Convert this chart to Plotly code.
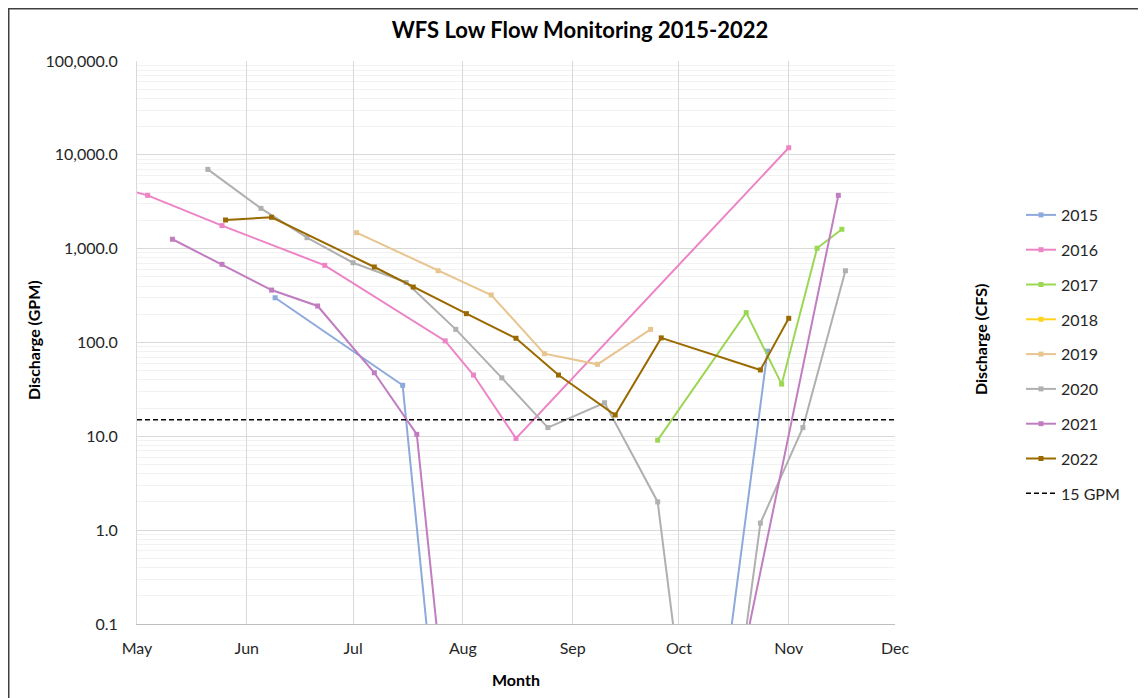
import plotly.graph_objects as go

# ---------------- data (GPM) ----------------
d2015 = ["2022-06-09", "2022-07-15", "2022-07-27", "2022-10-09", "2022-10-26"]
v2015 = [300, 35, 0.001, 0.001, 81]

d2016 = ["2022-04-17", "2022-05-04", "2022-05-25", "2022-06-23", "2022-07-27", "2022-08-04", "2022-08-16", "2022-11-01"]
v2016 = [5500, 3700, 1760, 664, 104, 45, 9.5, 11900]

d2017 = ["2022-09-25", "2022-10-20", "2022-10-30", "2022-11-09", "2022-11-16"]
v2017 = [9.1, 208, 36, 1010, 1610]

d2018 = []   # no readings plotted for 2018
v2018 = []

d2019 = ["2022-07-02", "2022-07-25", "2022-08-09", "2022-08-24", "2022-09-08", "2022-09-23"]
v2019 = [1480, 582, 321, 76, 58.5, 138]

d2020 = ["2022-05-21", "2022-06-05", "2022-06-18", "2022-07-01", "2022-07-16", "2022-07-30", "2022-08-12",
         "2022-08-25", "2022-09-10", "2022-09-25", "2022-10-06", "2022-10-13", "2022-10-24", "2022-11-05", "2022-11-17"]
v2020 = [7000, 2690, 1310, 708, 437, 138, 42, 12.4, 22.8, 2.0, 0.001, 0.001, 1.19, 12.4, 582]

d2021 = ["2022-05-11", "2022-05-25", "2022-06-08", "2022-06-21", "2022-07-07", "2022-07-19", "2022-07-30", "2022-10-10", "2022-11-15"]
v2021 = [1260, 681, 362, 245, 47.6, 10.5, 0.001, 0.001, 3700]

d2022 = ["2022-05-26", "2022-06-08", "2022-07-07", "2022-07-18", "2022-08-02", "2022-08-16", "2022-08-28",
         "2022-09-13", "2022-09-26", "2022-10-24", "2022-11-01"]
v2022 = [2020, 2160, 638, 390, 203, 111, 45, 16.9, 112, 51, 181]

threshold_dates = ["2022-05-01", "2022-12-01"]
threshold_gpm = [15, 15]

gpm_ticks = [0.1, 1, 10, 100, 1000, 10000, 100000]
gpm_ticktext = ["0.1", "1.0", "10.0", "100.0", "1,000.0", "10,000.0", "100,000.0"]
GPM_PER_CFS = 448.83
cfs_ticktext = ["%.2f" % (g / GPM_PER_CFS) for g in gpm_ticks]

series = [
    ("2015", d2015, v2015, "#8EA9DB"),
    ("2016", d2016, v2016, "#EC84C6"),
    ("2017", d2017, v2017, "#9BD752"),
    ("2018", d2018, v2018, "#FFD320"),
    ("2019", d2019, v2019, "#E8C48F"),
    ("2020", d2020, v2020, "#B0B0B0"),
    ("2021", d2021, v2021, "#C07EC0"),
    ("2022", d2022, v2022, "#9A6A00"),
]

FONT = "Lato, 'Open Sans', sans-serif"

fig = go.Figure()
for name, d, v, c in series:
    fig.add_trace(go.Scatter(
        x=d if d else [None], y=v if v else [None], name=name,
        mode="lines+markers", legendgroup=name, showlegend=True,
        line=dict(color=c, width=2),
        marker=dict(symbol="square", size=5, color=c),
    ))

fig.add_trace(go.Scatter(
    x=threshold_dates, y=threshold_gpm, name="15 GPM", mode="lines", legendgroup="15",
    line=dict(color="black", width=1.5, dash="5px,3px"),
))

# page is offset by the 8px body margin
OFF = 8
PW, PH = 1146, 698
W, H = PW - OFF, PH - OFF
# plot area in page pixels
X0, X1, Y0, Y1 = 137, 895, 61, 624
L, T = X0 - OFF, Y0 - OFF
R, B = W - (X1 - OFF), H - (Y1 - OFF)
pw, ph = X1 - X0, Y1 - Y0

def px(x):   # page px -> paper
    return (x - X0) / pw

def py(y):
    return (Y1 - y) / ph

fig.update_layout(
    width=W, height=H,
    margin=dict(l=L, r=R, t=T, b=B),
    paper_bgcolor="white", plot_bgcolor="white",
    font=dict(family=FONT, size=16, color="#262626"),
    title=dict(text="<b>WFS Low Flow Monitoring 2015-2022</b>", x=(580 - OFF) / W, xref="container",
               xanchor="center", y=1 - (30 - OFF) / H, yanchor="middle", yref="container",
               font=dict(size=22, color="black")),
    showlegend=True,
    legend=dict(x=px(1021), y=py(198), xanchor="left", yanchor="top",
                font=dict(size=16, color="#262626"), tracegroupgap=11,
                bgcolor="rgba(0,0,0,0)", itemwidth=30),
    xaxis=dict(
        type="date", range=["2022-05-01", "2022-12-01"],
        tick0="2022-05-01", dtick="M1", tickformat="%b",
        showgrid=True, gridcolor="#D9D9D9", gridwidth=1,
        showline=True, linecolor="#BFBFBF", linewidth=1,
        ticks="", ticklabelstandoff=10, zeroline=False,
    ),
    yaxis=dict(
        type="log", range=[-1, 5],
        tickvals=gpm_ticks, ticktext=gpm_ticktext,
        showgrid=True, gridcolor="#D9D9D9", gridwidth=1,
        minor=dict(dtick="D1", showgrid=True, gridcolor="#F2F2F2", ticks=""),
        showline=True, linecolor="#D9D9D9", linewidth=1,
        ticks="", ticklabelstandoff=15, zeroline=False,
    ),
    yaxis2=dict(
        type="log", range=[-1, 5], overlaying="y", side="right",
        tickvals=gpm_ticks, ticktext=cfs_ticktext,
        showgrid=False, showline=True, linecolor="#D9D9D9", linewidth=1,
        ticks="outside", ticklen=5, tickcolor="#D9D9D9",
        ticklabelstandoff=10, zeroline=False,
    ),
    annotations=[
        dict(text="<b>Discharge (GPM)</b>", x=px(33), y=py(340), xref="paper", yref="paper",
             textangle=-90, showarrow=False, font=dict(size=16, color="black"),
             xanchor="center", yanchor="middle"),
        dict(text="<b>Discharge (CFS)</b>", x=px(980), y=py(340), xref="paper", yref="paper",
             textangle=-90, showarrow=False, font=dict(size=16, color="black"),
             xanchor="center", yanchor="middle"),
        dict(text="<b>Month</b>", x=px(516), y=py(679), xref="paper", yref="paper",
             showarrow=False, font=dict(size=16, color="black"),
             xanchor="center", yanchor="middle"),
    ],
    shapes=[
        dict(type="rect", xref="paper", yref="paper",
             x0=px(OFF + 0.75), x1=px(1300), y0=py(800), y1=py(OFF + 0.75),
             line=dict(color="#404040", width=1.5), fillcolor="rgba(0,0,0,0)", layer="above"),
    ],
)

fig.write_html("out.html")
